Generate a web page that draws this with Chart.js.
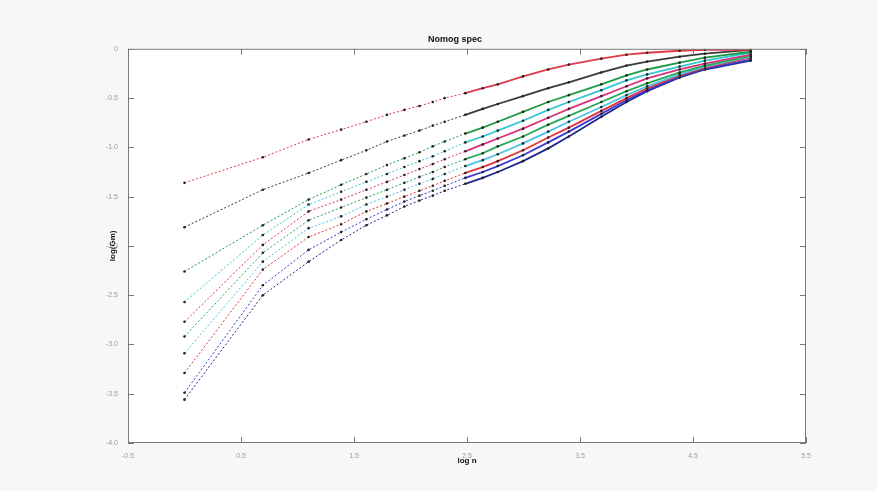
<!DOCTYPE html>
<html>
<head>
<meta charset="utf-8">
<script src="https://cdn.jsdelivr.net/npm/chart.js@4.4.1/dist/chart.umd.min.js"></script>
<style>
  html, body { margin: 0; padding: 0; background: #f6f7f7; }
  #wrap { width: 877px; height: 491px; }
</style>
</head>
<body>
<div id="wrap"><canvas id="c" width="877" height="491"></canvas></div>
<script>
// sample sizes n (plotted against log n)
const nValues = [1, 2, 3, 4, 5, 6, 7, 8, 9, 10, 12, 14, 16, 20, 25, 30, 40, 50, 60, 80, 100, 150];

// one curve per family member, values of log(Gm) at each n
const curve1  = [-1.36, -1.10, -0.92, -0.82, -0.74, -0.67, -0.62, -0.58, -0.54, -0.50, -0.45, -0.40, -0.36, -0.28, -0.21, -0.16, -0.10, -0.06, -0.04, -0.02, -0.01, -0.01];
const curve2  = [-1.81, -1.43, -1.26, -1.13, -1.03, -0.94, -0.88, -0.83, -0.78, -0.74, -0.67, -0.61, -0.56, -0.48, -0.40, -0.34, -0.24, -0.17, -0.13, -0.08, -0.05, -0.01];
const curve3  = [-2.26, -1.79, -1.53, -1.38, -1.27, -1.18, -1.11, -1.05, -0.99, -0.94, -0.86, -0.80, -0.74, -0.64, -0.54, -0.47, -0.36, -0.27, -0.21, -0.14, -0.09, -0.03];
const curve4  = [-2.57, -1.89, -1.58, -1.45, -1.35, -1.27, -1.20, -1.14, -1.09, -1.04, -0.95, -0.89, -0.83, -0.73, -0.62, -0.54, -0.42, -0.32, -0.26, -0.18, -0.12, -0.04];
const curve5  = [-2.77, -1.99, -1.65, -1.53, -1.43, -1.35, -1.28, -1.22, -1.17, -1.12, -1.04, -0.97, -0.91, -0.81, -0.70, -0.61, -0.48, -0.38, -0.30, -0.21, -0.15, -0.06];
const curve6  = [-2.92, -2.07, -1.74, -1.61, -1.51, -1.43, -1.36, -1.30, -1.25, -1.20, -1.12, -1.06, -0.99, -0.89, -0.77, -0.68, -0.54, -0.43, -0.35, -0.24, -0.17, -0.07];
const curve7  = [-3.09, -2.16, -1.82, -1.70, -1.58, -1.50, -1.43, -1.37, -1.32, -1.27, -1.19, -1.13, -1.07, -0.96, -0.84, -0.74, -0.59, -0.47, -0.38, -0.26, -0.18, -0.08];
const curve8  = [-3.29, -2.24, -1.91, -1.78, -1.65, -1.57, -1.50, -1.44, -1.39, -1.34, -1.26, -1.20, -1.14, -1.03, -0.90, -0.80, -0.63, -0.50, -0.40, -0.27, -0.19, -0.09];
const curve9  = [-3.49, -2.40, -2.04, -1.86, -1.73, -1.63, -1.55, -1.49, -1.44, -1.39, -1.31, -1.25, -1.19, -1.08, -0.95, -0.84, -0.66, -0.52, -0.42, -0.28, -0.20, -0.11];
const curve10 = [-3.56, -2.50, -2.16, -1.94, -1.79, -1.69, -1.60, -1.54, -1.49, -1.44, -1.37, -1.31, -1.25, -1.14, -1.01, -0.89, -0.69, -0.54, -0.43, -0.29, -0.21, -0.12];

const curves = [curve1, curve2, curve3, curve4, curve5, curve6, curve7, curve8, curve9, curve10];

// axis ticks
const xTicks = [-0.5, 0.5, 1.5, 2.5, 3.5, 4.5, 5.5];
const yTicks = [-4, -3.5, -3, -2.5, -2, -1.5, -1, -0.5, 0];

const lineColors = ['#e23a4a', '#3a3a3a', '#1f9a45', '#35c6d4', '#d8337a', '#27a857', '#4cc3e6', '#e2333a', '#3a3ad6', '#1e2a8a'];

const datasets = curves.map((vals, i) => ({
  label: 'curve ' + (i + 1),
  data: vals.map((v, j) => ({ x: Math.log(nValues[j]), y: v })),
  borderColor: lineColors[i],
  borderWidth: 1.6,
  pointRadius: 1.3,
  pointBackgroundColor: '#222',
  pointBorderWidth: 0,
  tension: 0,
  segment: {
    // the sparse part of each curve is drawn dotted
    borderDash: ctx => (ctx.p1.parsed.x <= 2.5 ? [2, 2] : undefined),
    borderWidth: ctx => (ctx.p1.parsed.x <= 2.5 ? 1 : 1.8)
  }
}));

// white plot area, box outline and inward ticks
const frame = {
  id: 'frame',
  beforeDraw(chart) {
    const { ctx, chartArea: a } = chart;
    ctx.save();
    ctx.fillStyle = '#ffffff';
    ctx.fillRect(a.left, a.top, a.right - a.left, a.bottom - a.top);
    ctx.restore();
  },
  afterDraw(chart) {
    const { ctx, chartArea: a, scales } = chart;
    ctx.save();
    ctx.strokeStyle = '#7a7a7a';
    ctx.lineWidth = 1;
    ctx.strokeRect(a.left + 0.5, a.top + 0.5, a.right - a.left - 1, a.bottom - a.top - 1);
    ctx.beginPath();
    xTicks.forEach(t => {
      const px = Math.round(scales.x.getPixelForValue(t)) + 0.5;
      ctx.moveTo(px, a.bottom); ctx.lineTo(px, a.bottom - 6);
      ctx.moveTo(px, a.top); ctx.lineTo(px, a.top + 6);
    });
    yTicks.forEach(t => {
      const py = Math.round(scales.y.getPixelForValue(t)) + 0.5;
      ctx.moveTo(a.left, py); ctx.lineTo(a.left + 6, py);
      ctx.moveTo(a.right, py); ctx.lineTo(a.right - 6, py);
    });
    ctx.stroke();
    ctx.restore();
  }
};

new Chart(document.getElementById('c'), {
  type: 'line',
  data: { datasets },
  plugins: [frame],
  options: {
    responsive: false,
    animation: false,
    layout: { padding: { left: 104, right: 71, top: 0, bottom: 0 } },
    plugins: {
      legend: { display: false },
      tooltip: { enabled: false },
      title: {
        display: true,
        text: 'Nomog spec',
        color: '#111',
        font: { family: 'Liberation Sans, Arial, sans-serif', size: 9, weight: 'bold' },
        padding: { top: 34, bottom: 4 }
      }
    },
    scales: {
      x: {
        type: 'linear',
        min: -0.5,
        max: 5.5,
        afterBuildTicks: s => { s.ticks = xTicks.map(v => ({ value: v })); },
        afterFit: s => { s.height = 48; },
        grid: { display: false },
        border: { display: false },
        ticks: {
          color: '#9a9a9a',
          padding: 1,
          font: { family: 'Liberation Sans, Arial, sans-serif', size: 7 }
        },
        title: {
          display: true,
          text: 'log n',
          color: '#111',
          font: { family: 'Liberation Sans, Arial, sans-serif', size: 8, weight: 'bold' },
          padding: { top: 0, bottom: 25 }
        }
      },
      y: {
        type: 'linear',
        min: -4,
        max: 0,
        afterBuildTicks: s => { s.ticks = yTicks.map(v => ({ value: v })); },
        afterFit: s => { s.width = 24; },
        grid: { display: false },
        border: { display: false },
        ticks: {
          color: '#9a9a9a',
          padding: 2,
          font: { family: 'Liberation Sans, Arial, sans-serif', size: 7 }
        },
        title: {
          display: true,
          text: 'log(Gm)',
          color: '#111',
          font: { family: 'Liberation Sans, Arial, sans-serif', size: 8, weight: 'bold' },
          padding: { top: 4, bottom: 0 }
        }
      }
    }
  }
});
</script>
</body>
</html>
